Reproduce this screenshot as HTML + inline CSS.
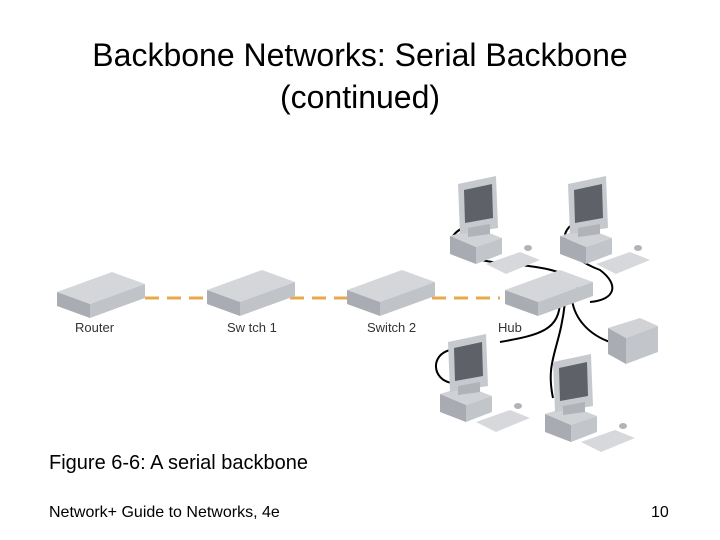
<!DOCTYPE html>
<html><head><style>
body{margin:0;width:720px;height:540px;background:#fff;overflow:hidden;position:relative;font-family:"Liberation Sans",sans-serif}
.t{position:absolute;left:0;width:720px;text-align:center;top:34px;font-size:32px;line-height:42px;color:#000}
.f{position:absolute;left:49px;top:452px;font-size:20px}
.b{position:absolute;left:49px;top:504px;font-size:16px}
.n{position:absolute;left:651px;top:504px;font-size:16px}
</style></head><body>
<div class="t">Backbone Networks: Serial Backbone<br>(continued)</div>
<svg width="720" height="540" style="position:absolute;left:0;top:0">
<defs>
<g id="pc">
<polygon points="2,52 28,44 54,54 28,63" fill="#d0d2d6"/>
<polygon points="2,52 28,63 28,80 2,70" fill="#a8abb1"/>
<polygon points="28,63 54,54 54,70 28,80" fill="#c2c5ca"/>
<polygon points="10,0 48,-8 50,44 12,50" fill="#c6c9ce"/>
<polygon points="16,6 44,0 45,34 17,39" fill="#5e6168"/>
<polygon points="20,44 42,40 42,50 20,53" fill="#b0b3b8"/>
<polygon points="38,80 72,68 92,76 58,90" fill="#d6d8dc"/>
<ellipse cx="80" cy="64" rx="4" ry="3" fill="#b0b3b8"/>
</g>
<g id="sw">
<polygon points="0,20 55,0 88,12 33,32" fill="#d4d6da"/>
<polygon points="0,20 33,32 33,46 0,34" fill="#a9acb2"/>
<polygon points="33,32 88,12 88,26 33,46" fill="#c0c3c8"/>
</g>
</defs>
<g stroke="#e8a94a" stroke-width="3" stroke-dasharray="14,8">
<line x1="145" y1="298" x2="210" y2="298"/>
<line x1="290" y1="298" x2="350" y2="298"/>
<line x1="432" y1="298" x2="500" y2="298"/>
</g>
<g fill="none" stroke="#000" stroke-width="2">
<path d="M470,225 C440,235 440,260 520,265 C570,270 580,280 578,300"/>
<path d="M580,220 C555,230 560,255 600,270 C620,285 615,300 590,302"/>
<path d="M560,300 C560,330 540,335 500,342"/>
<path d="M565,302 C560,350 545,360 553,398"/>
<path d="M572,300 C575,320 590,335 610,342"/>
<path d="M450,350 C430,355 432,380 452,383"/>
</g>
<use href="#sw" x="57" y="272"/>
<use href="#sw" x="207" y="270"/>
<use href="#sw" x="347" y="270"/>
<use href="#sw" x="505" y="270"/>
<use href="#pc" x="448" y="184"/>
<use href="#pc" x="558" y="184"/>
<use href="#pc" x="438" y="342"/>
<use href="#pc" x="543" y="362"/>
<polygon points="608,328 640,318 658,326 626,338" fill="#d0d2d6"/>
<polygon points="608,328 626,338 626,364 608,354" fill="#a9acb2"/>
<polygon points="626,338 658,326 658,352 626,364" fill="#c2c5ca"/>
<g font-size="13" fill="#333" font-family="Liberation Sans,sans-serif">
<text x="75" y="332">Router</text><text x="227" y="332">Sw tch 1</text>
<text x="367" y="332">Switch 2</text><text x="498" y="332">Hub</text>
</g>
</svg>
<div class="f">Figure 6-6: A serial backbone</div>
<div class="b">Network+ Guide to Networks, 4e</div>
<div class="n">10</div>
</body></html>
